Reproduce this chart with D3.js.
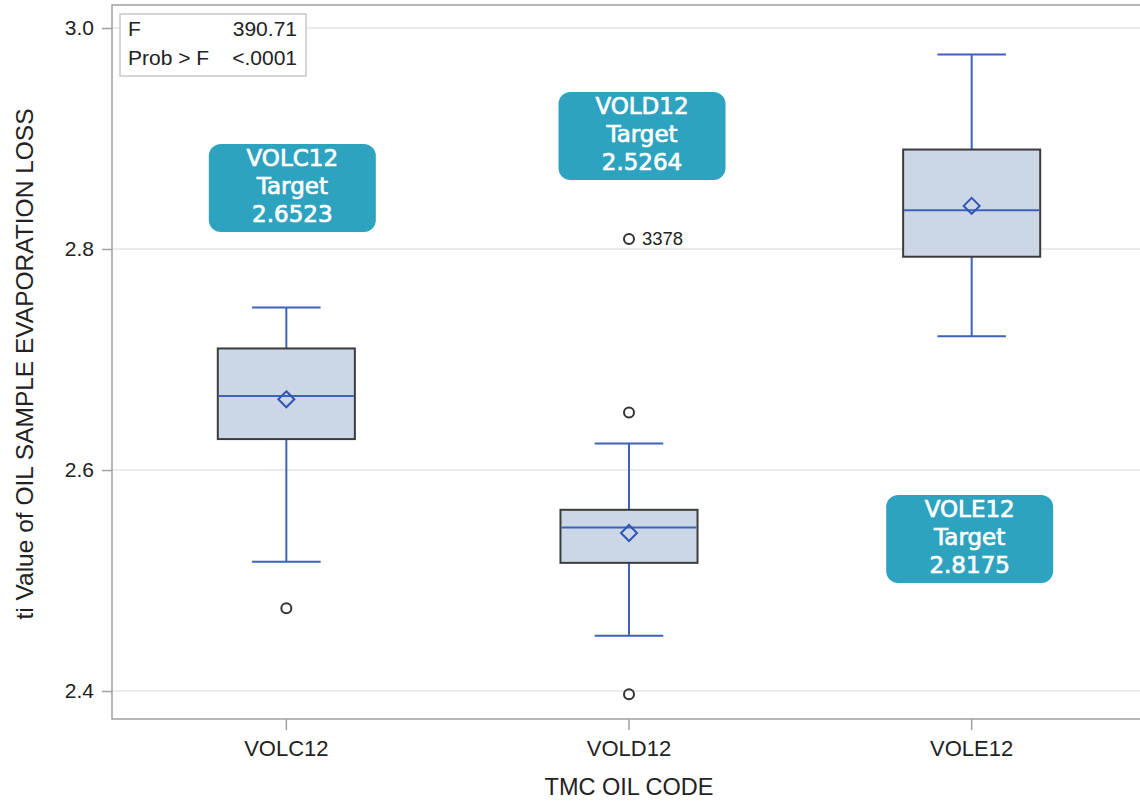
<!DOCTYPE html>
<html>
<head>
<meta charset="utf-8">
<script src="https://cdn.jsdelivr.net/npm/d3@7"></script>
<style>
  html, body { margin: 0; padding: 0; background: #fff; }
  svg { display: block; font-family: "Liberation Sans", Arial, sans-serif; }
</style>
</head>
<body>
<svg id="chart" width="1140" height="801"></svg>
<script>
// Oil codes and box-plot statistics of the evaporation loss
const categories  = ["VOLC12", "VOLD12", "VOLE12"];
const whiskerLow  = [2.517, 2.450, 2.721];
const q1          = [2.628, 2.516, 2.793];
const medians     = [2.667, 2.548, 2.835];
const q3          = [2.710, 2.564, 2.890];
const whiskerHigh = [2.747, 2.624, 2.976];
const means       = [2.664, 2.543, 2.839];

// Outlying observations (one of them is labelled with its ID)
const outlierCats   = ["VOLC12", "VOLD12", "VOLD12", "VOLD12"];
const outlierValues = [2.475, 2.652, 2.809, 2.397];
const outlierIds    = ["", "", "3378", ""];

// Target values per oil code
const targetValues = [2.6523, 2.5264, 2.8175];

// ANOVA summary
const statLabels = ["F", "Prob > F"];
const statValues = ["390.71", "<.0001"];

const yTicks = [2.4, 2.6, 2.8, 3.0];

const svg = d3.select("#chart");

const frame = { left: 112, right: 1141, top: 5, bottom: 719 };

const x = d3.scaleBand()
  .domain(categories)
  .range([115, 1143])
  .paddingInner(0)
  .paddingOuter(0);

const y = d3.scaleLinear()
  .domain([2.3747, 3.0208])
  .range([frame.bottom, frame.top]);

const boxW = x.bandwidth() * 0.4;
const capW = boxW * 0.5;
const cx = c => x(c) + x.bandwidth() / 2;

const blue = "#3d62bb";
const gridColor = "#ebebeb";
const axisColor = "#a0a0a0";

// Grid lines
svg.append("g")
  .selectAll("line")
  .data(yTicks)
  .join("line")
  .attr("x1", frame.left)
  .attr("x2", frame.right)
  .attr("y1", d => y(d))
  .attr("y2", d => y(d))
  .attr("stroke", gridColor)
  .attr("stroke-width", 2);

// Y axis
const yAxis = svg.append("g")
  .attr("transform", `translate(${frame.left},0)`)
  .call(d3.axisLeft(y).tickValues(yTicks).tickFormat(d3.format(".1f")).tickSize(10).tickPadding(8));
yAxis.select(".domain").remove();
yAxis.selectAll(".tick line").attr("stroke", axisColor).attr("stroke-width", 1.5);
yAxis.selectAll(".tick text")
  .attr("fill", "#222")
  .style("font-size", "21px")
  .style("font-family", "'Liberation Sans', Arial, sans-serif");

// X axis
const xAxis = svg.append("g")
  .attr("transform", `translate(0,${frame.bottom})`)
  .call(d3.axisBottom(x).tickSize(11).tickPadding(10));
xAxis.select(".domain").remove();
xAxis.selectAll(".tick line").attr("stroke", axisColor).attr("stroke-width", 1.5);
xAxis.selectAll(".tick text")
  .attr("fill", "#222")
  .style("font-size", "22px")
  .style("font-family", "'Liberation Sans', Arial, sans-serif");

// Frame (left, top, bottom)
svg.append("path")
  .attr("d", `M${frame.right},${frame.top}H${frame.left}V${frame.bottom}H${frame.right}`)
  .attr("fill", "none")
  .attr("stroke", axisColor)
  .attr("stroke-width", 1.5);

// Axis titles
svg.append("text")
  .attr("x", (frame.left + 1140) / 2 + 3)
  .attr("y", 795)
  .attr("text-anchor", "middle")
  .attr("fill", "#222")
  .style("font-size", "23.5px")
  .text("TMC OIL CODE");

svg.append("text")
  .attr("transform", `translate(33,${(frame.top + frame.bottom) / 2 + 2}) rotate(-90)`)
  .attr("text-anchor", "middle")
  .attr("fill", "#222")
  .style("font-size", "24.5px")
  .text("ti Value of OIL SAMPLE EVAPORATION LOSS");

// Box plots
const boxes = categories.map((c, i) => ({
  c, lo: whiskerLow[i], q1: q1[i], med: medians[i], q3: q3[i], hi: whiskerHigh[i], mean: means[i]
}));

const g = svg.append("g").selectAll("g").data(boxes).join("g");

// whisker stems
g.append("line")
  .attr("x1", d => cx(d.c)).attr("x2", d => cx(d.c))
  .attr("y1", d => y(d.hi)).attr("y2", d => y(d.q3))
  .attr("stroke", blue).attr("stroke-width", 2);
g.append("line")
  .attr("x1", d => cx(d.c)).attr("x2", d => cx(d.c))
  .attr("y1", d => y(d.q1)).attr("y2", d => y(d.lo))
  .attr("stroke", blue).attr("stroke-width", 2);
// whisker caps
g.append("line")
  .attr("x1", d => cx(d.c) - capW / 2).attr("x2", d => cx(d.c) + capW / 2)
  .attr("y1", d => y(d.hi)).attr("y2", d => y(d.hi))
  .attr("stroke", blue).attr("stroke-width", 2);
g.append("line")
  .attr("x1", d => cx(d.c) - capW / 2).attr("x2", d => cx(d.c) + capW / 2)
  .attr("y1", d => y(d.lo)).attr("y2", d => y(d.lo))
  .attr("stroke", blue).attr("stroke-width", 2);
// box
g.append("rect")
  .attr("x", d => cx(d.c) - boxW / 2)
  .attr("width", boxW)
  .attr("y", d => y(d.q3))
  .attr("height", d => y(d.q1) - y(d.q3))
  .attr("fill", "#cbd6e6")
  .attr("stroke", "#3c3c3c")
  .attr("stroke-width", 2);
// median
g.append("line")
  .attr("x1", d => cx(d.c) - boxW / 2 + 1).attr("x2", d => cx(d.c) + boxW / 2 - 1)
  .attr("y1", d => y(d.med)).attr("y2", d => y(d.med))
  .attr("stroke", blue).attr("stroke-width", 2);
// mean diamond
g.append("path")
  .attr("d", d => {
    const px = cx(d.c), py = y(d.mean), r = 8;
    return `M${px},${py - r}L${px + r},${py}L${px},${py + r}L${px - r},${py}Z`;
  })
  .attr("fill", "none")
  .attr("stroke", "#2f55b2")
  .attr("stroke-width", 2);

// Outliers
const outliers = outlierValues.map((v, i) => ({ c: outlierCats[i], v, id: outlierIds[i] }));
svg.append("g").selectAll("circle")
  .data(outliers)
  .join("circle")
  .attr("cx", d => cx(d.c))
  .attr("cy", d => y(d.v))
  .attr("r", 5)
  .attr("fill", "none")
  .attr("stroke", "#333")
  .attr("stroke-width", 2);
svg.append("g").selectAll("text")
  .data(outliers.filter(d => d.id))
  .join("text")
  .attr("x", d => cx(d.c) + 13)
  .attr("y", d => y(d.v) + 6)
  .attr("fill", "#222")
  .style("font-size", "18.5px")
  .text(d => d.id);

// ANOVA inset
const inset = svg.append("g");
inset.append("rect")
  .attr("x", 120).attr("y", 14)
  .attr("width", 186).attr("height", 62)
  .attr("fill", "#fff")
  .attr("stroke", "#c8c8c8")
  .attr("stroke-width", 1.5);
statLabels.forEach((lab, i) => {
  inset.append("text")
    .attr("x", 128).attr("y", 36 + i * 29)
    .attr("fill", "#222").style("font-size", "21px")
    .text(lab);
  inset.append("text")
    .attr("x", 297).attr("y", 36 + i * 29)
    .attr("text-anchor", "end")
    .attr("fill", "#222").style("font-size", "21px")
    .text(statValues[i]);
});

// Target callouts: top edge given on the value axis, horizontal shift from the category centre
const calloutTop = [2.895, 2.942, 2.5774];
const calloutShift = [6, 13, -2];
const cW = 167, cH = 88;
const callouts = svg.append("g").selectAll("g")
  .data(categories.map((c, i) => ({ c, t: targetValues[i], top: calloutTop[i], dx: calloutShift[i] })))
  .join("g")
  .attr("transform", d => `translate(${cx(d.c) + d.dx - cW / 2},${y(d.top)})`);
callouts.append("rect")
  .attr("width", cW).attr("height", cH)
  .attr("rx", 12).attr("ry", 12)
  .attr("fill", "#2ea3bf");
callouts.each(function(d) {
  const lines = [d.c, "Target", d3.format(".4f")(d.t)];
  d3.select(this).selectAll("text")
    .data(lines)
    .join("text")
    .attr("x", cW / 2)
    .attr("y", (_, k) => 22 + k * 28)
    .attr("text-anchor", "middle")
    .attr("fill", "#fff")
    .attr("stroke", "#fff")
    .attr("stroke-width", 0.7)
    .style("font-family", "'DejaVu Sans', sans-serif")
    .style("font-size", "23px")
    .text(t => t);
});
</script>
</body>
</html>
